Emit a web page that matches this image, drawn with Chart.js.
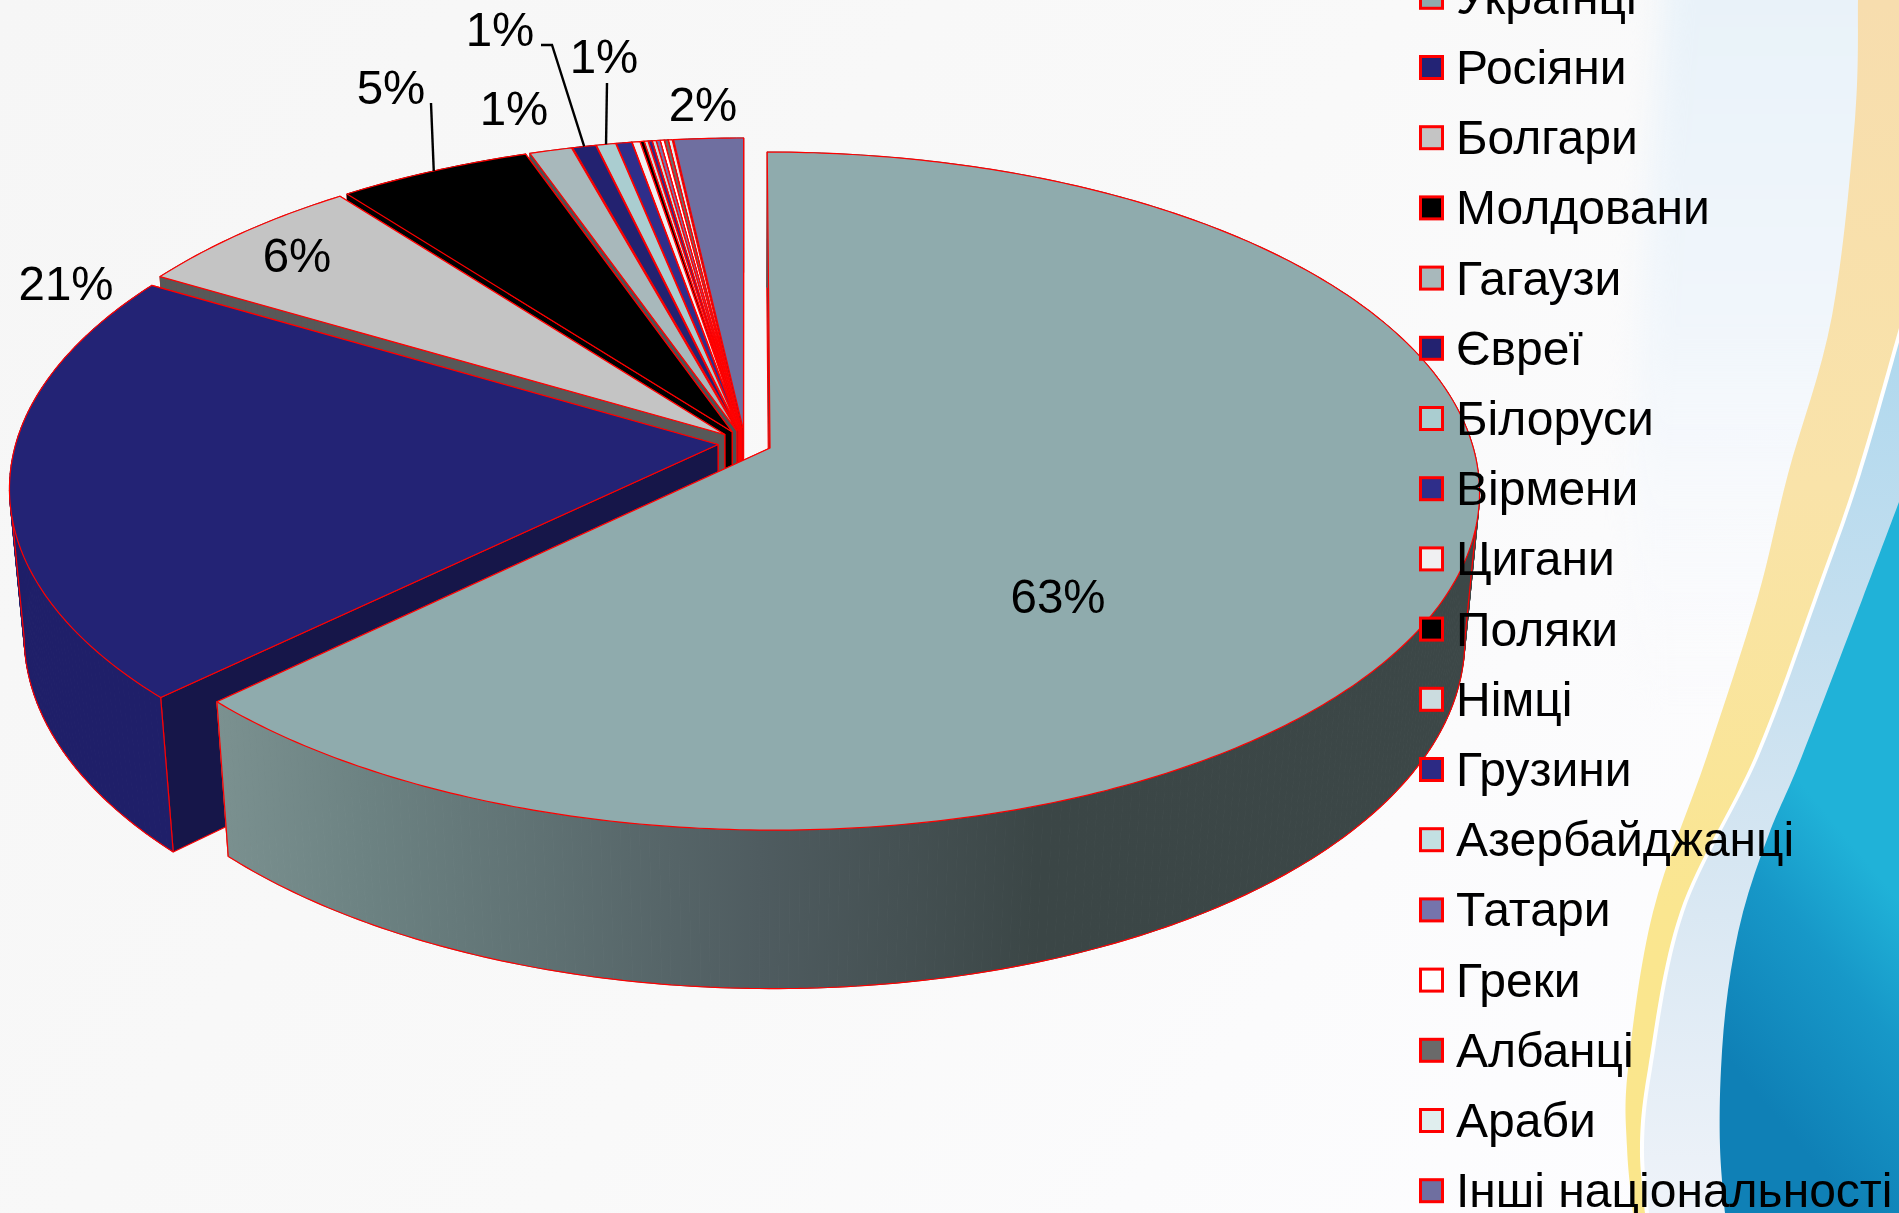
<!DOCTYPE html>
<html lang="uk">
<head>
<meta charset="utf-8">
<title>Національний склад</title>
<script src="https://cdn.jsdelivr.net/npm/chart.js@4/dist/chart.umd.min.js"></script>
<style>
html,body{margin:0;padding:0;background:#f8f8f8;overflow:hidden}
canvas{display:block;position:absolute;left:0;top:0;filter:blur(0.45px)}
</style>
</head>
<body>
<canvas id="c" width="1899" height="1213"></canvas>
<script>
// ---- data ----
const categories = ["Українці","Росіяни","Болгари","Молдовани","Гагаузи","Євреї","Білоруси","Вірмени","Цигани","Поляки","Німці","Грузини","Азербайджанці","Татари","Греки","Албанці","Араби","Інші національності"];
const shares = [62.8,20.7,6.1,5.0,1.1,0.6,0.5,0.4,0.2,0.1,0.1,0.1,0.1,0.1,0.1,0.1,0.1,1.8];
const sliceColors = ["#8FABAD","#232375","#C4C4C4","#000000","#A8B8BB","#232270","#AACDD0","#2F2E8A","#F0F0F2","#000000","#CBDCDF","#2C2A84","#C3E0E2","#7574AC","#FFFFFF","#6A6A6A","#E0EEEE","#6F6FA0"];

// ---- layout of labels: [slice index, centre x, baseline y, leader start x, y] ----
const labelSpots = [
  [0,1058,613],[1,66,300],[2,297,272],
  [3,391,104,431,103],[4,514,125],[5,500,46,541,45,552,45],[6,604,73,607,83],[17,703,121]
];
// ---- 3D view ----
const view = {cx:745, cy:443, a:702, b:332.3, d:149, p:0.1267, q:0.02};
const project = (u,v,h)=>{
  const w = 1 - view.p*v + view.q*h;
  return [view.cx + view.a*u/w, view.cy + (view.b*v + view.d*h)/w];
};
const bgLeft  = [[1858,0],[1855,119],[1832,316],[1788,474],[1757,600],[1707,756],[1653,912],[1628,1069],[1627,1147],[1633,1213]];
const bgRight = [[1899,328],[1857,474],[1813,600],[1755,756],[1680,912],[1648,1069],[1640,1147],[1645,1213]];
const bgTeal  = [[1899,502],[1862,600],[1802,756],[1769,834],[1743,912],[1728,990],[1721,1069],[1720,1147],[1725,1213]];
const bgPale  = [[1663,0],[1650,178],[1640,350],[1630,520],[1640,700]];

function curveTo(ctx,pts,shift){
  ctx.moveTo(pts[0][0]+shift,pts[0][1]);
  for(let i=0;i<pts.length-1;i++){
    const p0=pts[Math.max(i-1,0)],p1=pts[i],p2=pts[i+1],p3=pts[Math.min(i+2,pts.length-1)];
    ctx.bezierCurveTo(p1[0]+(p2[0]-p0[0])/6+shift,p1[1]+(p2[1]-p0[1])/6,p2[0]-(p3[0]-p1[0])/6+shift,p2[1]-(p3[1]-p1[1])/6,p2[0]+shift,p2[1]);
  }
}
function fillRightOf(ctx,pts,style,shift=0){
  ctx.beginPath();curveTo(ctx,pts,shift);
  ctx.lineTo(1899,1213);ctx.lineTo(1899,pts[0][1]);ctx.closePath();
  ctx.fillStyle=style;ctx.fill();
}
const backgroundPlugin={id:'slideBackground',beforeDraw(chart){
  const ctx=chart.ctx;ctx.save();
  let g=ctx.createLinearGradient(0,0,1700,1213);
  g.addColorStop(0,'#f6f6f6');g.addColorStop(.55,'#f9f9f9');g.addColorStop(1,'#fdfdff');
  ctx.fillStyle=g;ctx.fillRect(0,0,1899,1213);
  g=ctx.createLinearGradient(0,0,0,760);
  g.addColorStop(0,'#e9f2f9');g.addColorStop(.45,'#f1f6fb');g.addColorStop(1,'rgba(251,251,254,0)');
  ctx.save();ctx.filter='blur(14px)';
  ctx.beginPath();curveTo(ctx,bgPale,0);ctx.lineTo(1960,700);ctx.lineTo(1960,-60);ctx.lineTo(1663,-60);ctx.closePath();
  ctx.fillStyle=g;ctx.fill();ctx.restore();
  g=ctx.createLinearGradient(0,0,0,1213);
  g.addColorStop(0,'#F7DDAE');g.addColorStop(.4,'#F9E3A9');g.addColorStop(.75,'#FAE690');g.addColorStop(1,'#FAE68A');
  fillRightOf(ctx,bgLeft,g);
  fillRightOf(ctx,bgRight,'#ffffff');
  g=ctx.createLinearGradient(0,330,0,1213);
  g.addColorStop(0,'#AFD8EE');g.addColorStop(.35,'#C5DFEF');g.addColorStop(.6,'#D6E6F2');g.addColorStop(1,'#EFF3F9');
  fillRightOf(ctx,bgRight,g,4);
  g=ctx.createLinearGradient(1720,1050,1899,900);
  g.addColorStop(0,'#0F80B6');g.addColorStop(.6,'#1798C8');g.addColorStop(1,'#20B2D8');
  fillRightOf(ctx,bgTeal,g);
  ctx.restore();
}};
function shade(hex,f){
  const n=parseInt(hex.slice(1),16);
  return `rgb(${((n>>16)&255)*f|0},${((n>>8)&255)*f|0},${(n&255)*f|0})`;
}
function sliceGeom(chart,el){
  const R=el.outerRadius, mid=(el.startAngle+el.endAngle)/2, off=el.options.offset/R;
  return {ou:Math.cos(mid)*off, ov:Math.sin(mid)*off, s:el.startAngle, e:el.endAngle, mid};
}
const pie3dPlugin={id:'pie3d',beforeDatasetsDraw(chart){
  const ctx=chart.ctx, arcs=chart.getDatasetMeta(0).data;
  ctx.save();ctx.lineJoin='round';ctx.lineWidth=1.2;
  const path=(pts,close)=>{ctx.beginPath();pts.forEach((p,k)=>k?ctx.lineTo(p[0],p[1]):ctx.moveTo(p[0],p[1]));if(close)ctx.closePath();};
  for(let i=arcs.length-1;i>=0;i--){
    const {ou,ov,s,e}=sliceGeom(chart,arcs[i]);
    const col=chart.data.datasets[0].backgroundColor[i];
    const n=Math.max(2,Math.ceil((e-s)*80));
    const rim=h=>{const r=[];for(let k=0;k<=n;k++){const a=s+(e-s)*k/n;r.push(project(ou+Math.cos(a),ov+Math.sin(a),h));}return r;};
    const top=rim(0),bot=rim(1);
    const c0=project(ou,ov,0),c1=project(ou,ov,1);
    const radial=shade(col,i===1?.63:.45);
    ctx.strokeStyle='#ff0000';
    // radial walls
    [[top[n],bot[n]],[top[0],bot[0]]].forEach(([a,b])=>{path([c0,a,b,c1],true);ctx.fillStyle=radial;ctx.fill();ctx.stroke();});
    // outer wall, filled as strips so the silhouette follows the tangent
    let wall;
    if(i===0){
      wall=ctx.createLinearGradient(217,0,1478,0);
      wall.addColorStop(0,'#7B9190');wall.addColorStop(.12,'#6C8282');wall.addColorStop(.43,'#4F5C60');wall.addColorStop(.65,'#3B4646');wall.addColorStop(1,'#3C4747');
    } else wall=i===1?shade(col,.9):radial;
    ctx.fillStyle=wall;ctx.strokeStyle=wall;ctx.lineWidth=1;
    for(let k=0;k<n;k++){path([top[k],top[k+1],bot[k+1],bot[k]],true);ctx.fill();ctx.stroke();}
    ctx.strokeStyle='#ff0000';ctx.lineWidth=1.2;
    // wall outline: front part of the bottom rim, end edges, silhouette tangents
    ctx.beginPath();
    for(let k=0;k<n;k++){
      if(top[k+1][0]<top[k][0]){ctx.moveTo(bot[k][0],bot[k][1]);ctx.lineTo(bot[k+1][0],bot[k+1][1]);}
    }
    ctx.stroke();
    if(top[1][0]<top[0][0]){path([top[0],bot[0]]);ctx.stroke();}
    if(top[n][0]<top[n-1][0]){path([top[n],bot[n]]);ctx.stroke();}
    for(let k=1;k<n;k++){
      const maxX=top[k][0]>top[k-1][0]&&top[k][0]>=top[k+1][0];
      const minX=top[k][0]<top[k-1][0]&&top[k][0]<=top[k+1][0];
      if(maxX||minX){path([top[k],bot[k]]);ctx.stroke();}
    }
    // top face
    path([c0].concat(top),true);ctx.fillStyle=col;ctx.fill();ctx.stroke();
  }
  ctx.restore();
  return false;
},afterDraw(chart){
  const ctx=chart.ctx, arcs=chart.getDatasetMeta(0).data, ds=chart.data.datasets[0];
  ctx.save();
  ctx.font='47.5px "Liberation Sans", Arial, sans-serif';ctx.textBaseline='alphabetic';ctx.textAlign='center';ctx.fillStyle='#000';
  ctx.strokeStyle='#000';ctx.lineWidth=2.4;
  labelSpots.forEach(sp=>{
    const i=sp[0];
    ctx.fillText(Math.round(ds.data[i])+'%',sp[1],sp[2]);
    if(sp.length>3){
      const g=sliceGeom(chart,arcs[i]);
      const end=project(g.ou+Math.cos(g.mid),g.ov+Math.sin(g.mid),0);
      ctx.beginPath();ctx.moveTo(sp[3],sp[4]);
      for(let k=5;k<sp.length;k+=2)ctx.lineTo(sp[k],sp[k+1]);
      ctx.lineTo(end[0],end[1]);ctx.stroke();
    }
  });
  // legend
  ctx.textAlign='left';ctx.font='48px "Liberation Sans", Arial, sans-serif';
  chart.data.labels.forEach((t,i)=>{
    const yc=-2.7+70.2*i;
    ctx.fillStyle=ds.backgroundColor[i];ctx.strokeStyle='#ff0000';ctx.lineWidth=3;
    ctx.fillRect(1420.5,yc-11,22,22);ctx.strokeRect(1420.5,yc-11,22,22);
    ctx.fillStyle='#000';ctx.fillText(t,1456,yc+16.5);
  });
  ctx.restore();
}};
new Chart(document.getElementById('c'),{
  type:'pie',
  data:{labels:categories,datasets:[{data:shares,backgroundColor:sliceColors,borderColor:'#ff0000',borderWidth:1,offset:23}]},
  options:{responsive:false,animation:false,events:[],plugins:{legend:{display:false},tooltip:{enabled:false}}},
  plugins:[backgroundPlugin,pie3dPlugin]
});
</script>
</body>
</html>
